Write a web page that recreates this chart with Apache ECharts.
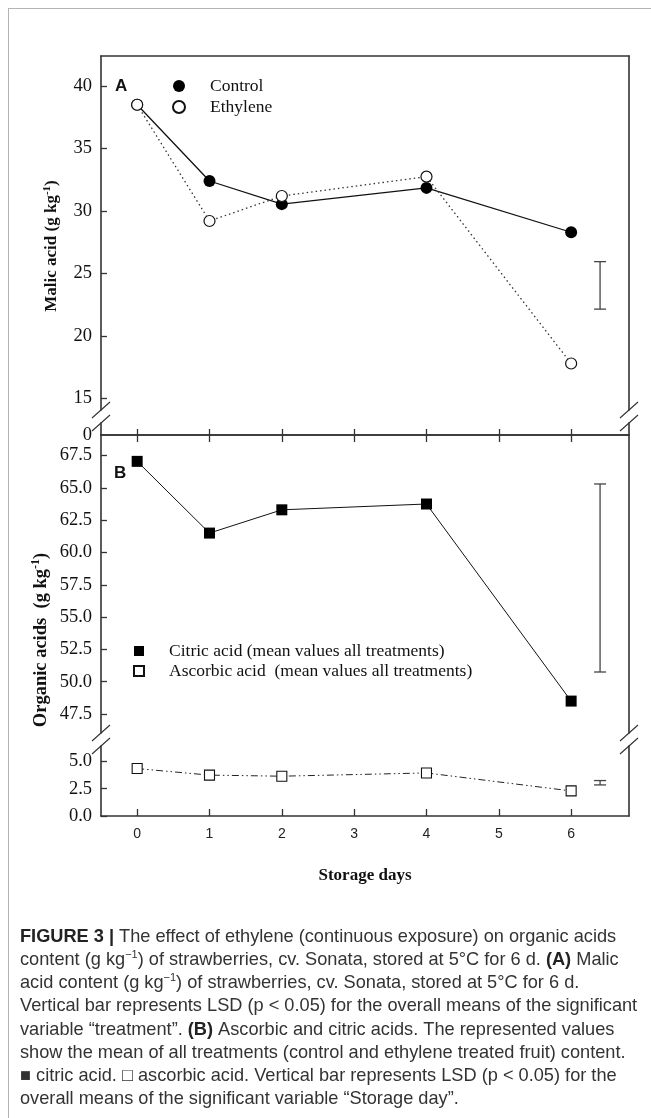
<!DOCTYPE html>
<html>
<head>
<meta charset="utf-8">
<script src="https://cdn.jsdelivr.net/npm/echarts@6/dist/echarts.min.js"></script>
<style>
  html, body { margin: 0; padding: 0; background: #fff; }
  #frame { position: absolute; left: 8px; top: 8px; right: 0; bottom: 0;
           border-top: 1px solid #b4b4b4; border-left: 1px solid #b4b4b4; }
  #chart { position: absolute; left: 0; top: 0; width: 651px; height: 1118px; }
</style>
</head>
<body>
<div id="frame"></div>
<div id="chart"></div>
<script>
// data
const days = [0, 1, 2, 4, 6];
const controlMalic = [38.5, 32.4, 30.55, 31.85, 28.3];
const ethyleneMalic = [38.5, 29.2, 31.2, 32.75, 17.8];
const citricAcid = [67.05, 61.5, 63.3, 63.75, 48.5];
const ascorbicAcid = [4.35, 3.75, 3.65, 3.95, 2.3];
// LSD bars: [day position, low, high]
const lsdMalic = [6.4, 22.15, 25.95];
const lsdCitric = [6.4, 50.75, 65.3];
const lsdAscorbic = [6.4, 2.85, 3.25];

const dayTicks = [0, 1, 2, 3, 4, 5, 6];
const malicTicks = [15, 20, 25, 30, 35, 40];
const malicZero = [0];
const citricTicks = [47.5, 50, 52.5, 55, 57.5, 60, 62.5, 65, 67.5];
const ascorbicTicks = [0, 2.5, 5];

const citricName = "Citric acid (mean values all treatments)";
const ascorbicName = "Ascorbic acid  (mean values all treatments)";

const SERIF = "'Liberation Serif', 'Times New Roman', serif";
const SANS = "'Liberation Sans', Arial, sans-serif";
const AX = "#333";

// layout of the four grids (two broken panels)
const L = 101, RM = 22, W = 651;
const gA = { top: 56, bottom: 410 };
const gA0 = { top: 423, bottom: 435 };
const gB = { top: 435, bottom: 733 };
const gB0 = { top: 746, bottom: 816 };

function grid(g) {
  return { left: L, right: RM, top: g.top, height: g.bottom - g.top };
}

function pairs(ys) {
  return days.map((d, i) => [d, ys[i]]);
}

function xAx(gi, pos, opts) {
  return Object.assign({
    type: "value", gridIndex: gi, position: pos, min: -0.5, max: 6.8,
    axisLine: { show: true, lineStyle: { color: AX, width: 1.6 } },
    axisTick: { show: false },
    axisLabel: { show: false },
    splitLine: { show: false },
  }, opts || {});
}

function yAx(gi, pos, min, max, ticks, fmt, noTick) {
  let a = {
    type: "value", gridIndex: gi, position: pos, min: min, max: max,
    axisLine: { show: true, onZero: false, lineStyle: { color: AX, width: 1.6 } },
    axisTick: { show: false },
    axisLabel: { show: false },
    splitLine: { show: false },
  };
  if (ticks) {
    a.axisTick = { show: !noTick, inside: true, length: 6, customValues: ticks,
                   lineStyle: { color: AX, width: 1.3 } };
    a.axisLabel = { show: true, customValues: ticks, margin: 9,
                    fontFamily: SERIF, fontSize: 18.5, color: "#111",
                    formatter: fmt || ((v) => String(v)) };
  }
  return a;
}

function lsdItem(params, api) {
  const top = api.coord([api.value(0), api.value(2)]);
  const bot = api.coord([api.value(0), api.value(1)]);
  const st = { stroke: "#444", lineWidth: 1.3 };
  return {
    type: "group",
    children: [
      { type: "line", shape: { x1: top[0], y1: top[1], x2: bot[0], y2: bot[1] }, style: st },
      { type: "line", shape: { x1: top[0] - 6, y1: top[1], x2: top[0] + 6, y2: top[1] }, style: st },
      { type: "line", shape: { x1: bot[0] - 6, y1: bot[1], x2: bot[0] + 6, y2: bot[1] }, style: st },
    ],
  };
}

// break marks "//" on the vertical axes
function slashes() {
  let out = [];
  [L, W - RM].forEach((x) => {
    [gA.bottom, gA0.top, gB.bottom, gB0.top].forEach((y) => {
      out.push({ type: "line", shape: { x1: x - 9, y1: y + 8, x2: x + 9, y2: y - 8 },
                 style: { stroke: AX, lineWidth: 1.2 }, z: 100 });
    });
  });
  return out;
}

const captionLines = [
  "{b|FIGURE 3 |} The effect of ethylene (continuous exposure) on organic acids",
  "content (g kg{s|−1}) of strawberries, cv. Sonata, stored at 5°C for 6 d. {b|(A)} Malic",
  "acid content (g kg{s|−1}) of strawberries, cv. Sonata, stored at 5°C for 6 d.",
  "Vertical bar represents LSD (p < 0.05) for the overall means of the significant",
  "variable “treatment”. {b|(B)} Ascorbic and citric acids. The represented values",
  "show the mean of all treatments (control and ethylene treated fruit) content.",
  "■ citric acid. □ ascorbic acid. Vertical bar represents LSD (p < 0.05) for the",
  "overall means of the significant variable “Storage day”.",
];

function caption() {
  return captionLines.map((t, i) => ({
    type: "text", x: 20, y: 937 + i * 23.15,
    style: {
      text: t, fontFamily: SANS, fontSize: 18.2, fill: "#333",
      textVerticalAlign: "middle",
      rich: {
        b: { fontFamily: SANS, fontSize: 18.2, fontWeight: "bold", fill: "#222" },
        s: { fontFamily: SANS, fontSize: 11, fill: "#333", padding: [0, 0, 10, 0] },
      },
    },
  }));
}

const chart = echarts.init(document.getElementById("chart"), null, { renderer: "canvas" });

const option = {
  animation: false,
  grid: [grid(gA), grid(gA0), grid(gB), grid(gB0)],
  xAxis: [
    xAx(0, "top"),
    xAx(1, "bottom", { axisTick: { show: true, inside: true, length: 6, customValues: dayTicks,
                                   lineStyle: { color: AX, width: 1.3 } } }),
    xAx(2, "top", { axisTick: { show: true, inside: true, length: 7, customValues: dayTicks,
                                lineStyle: { color: AX, width: 1.3 } } }),
    xAx(3, "bottom", {
      axisTick: { show: true, inside: true, length: 7, customValues: dayTicks,
                  lineStyle: { color: AX, width: 1.3 } },
      axisLabel: { show: true, customValues: dayTicks, margin: 11,
                   fontFamily: SANS, fontSize: 14, color: "#222" },
      name: "Storage days", nameLocation: "middle", nameGap: 51,
      nameTextStyle: { fontFamily: SERIF, fontSize: 17, fontWeight: "bold", color: "#111" },
    }),
  ],
  yAxis: [
    yAx(0, "left", 14.08, 42.4, malicTicks),
    yAx(0, "right", 14.08, 42.4),
    yAx(1, "left", 0, 1, malicZero, null, true),
    yAx(1, "right", 0, 1),
    yAx(2, "left", 46.03, 69.09, citricTicks, (v) => v.toFixed(1)),
    yAx(2, "right", 46.03, 69.09),
    yAx(3, "left", 0, 6.42, ascorbicTicks, (v) => v.toFixed(1)),
    yAx(3, "right", 0, 6.42),
  ],
  legend: [
    {
      data: [{ name: "Control", icon: "circle" }, { name: "Ethylene", icon: "circle" }],
      orient: "vertical", left: 172, top: 77, padding: 0,
      itemWidth: 12, itemHeight: 12, itemGap: 3, selectedMode: false,
      textStyle: { fontFamily: SERIF, fontSize: 17.5, color: "#111", lineHeight: 18, padding: [0, 0, 0, 20] },
    },
    {
      data: [{ name: citricName, icon: "rect" }, { name: ascorbicName, icon: "rect" }],
      orient: "vertical", left: 133, top: 642, padding: 0,
      itemWidth: 10, itemHeight: 10, itemGap: 2, selectedMode: false,
      textStyle: { fontFamily: SERIF, fontSize: 17.5, color: "#111", lineHeight: 18, padding: [0, 0, 0, 20] },
    },
  ],
  series: [
    {
      name: "Control", type: "line", xAxisIndex: 0, yAxisIndex: 0,
      data: pairs(controlMalic), symbol: "circle", symbolSize: 12,
      itemStyle: { color: "#000" }, lineStyle: { color: "#111", width: 1.3 }, z: 3,
    },
    {
      name: "Ethylene", type: "line", xAxisIndex: 0, yAxisIndex: 0,
      data: pairs(ethyleneMalic), symbol: "circle", symbolSize: 11,
      itemStyle: { color: "#fff", borderColor: "#111", borderWidth: 1.2 },
      lineStyle: { color: "#333", width: 1.3, type: [1.5, 3] }, z: 4,
    },
    {
      name: "lsdMalic", type: "custom", xAxisIndex: 0, yAxisIndex: 0,
      data: [lsdMalic], renderItem: lsdItem,
    },
    {
      name: citricName, type: "line", xAxisIndex: 2, yAxisIndex: 4,
      data: pairs(citricAcid), symbol: "rect", symbolSize: 11,
      itemStyle: { color: "#000" }, lineStyle: { color: "#111", width: 1 },
    },
    {
      name: "lsdCitric", type: "custom", xAxisIndex: 2, yAxisIndex: 4,
      data: [lsdCitric], renderItem: lsdItem,
    },
    {
      name: ascorbicName, type: "line", xAxisIndex: 3, yAxisIndex: 6,
      data: pairs(ascorbicAcid), symbol: "rect", symbolSize: 10,
      itemStyle: { color: "#fff", borderColor: "#111", borderWidth: 1.1 },
      lineStyle: { color: "#222", width: 1, type: [7, 3, 1.5, 3, 1.5, 3] },
    },
    {
      name: "lsdAscorbic", type: "custom", xAxisIndex: 3, yAxisIndex: 6,
      data: [lsdAscorbic], renderItem: lsdItem,
    },
  ],
  graphic: [
    { type: "text", x: 115, y: 86,
      style: { text: "A", fontFamily: SANS, fontSize: 17, fontWeight: "bold", fill: "#111", textVerticalAlign: "middle" } },
    { type: "text", x: 114, y: 473,
      style: { text: "B", fontFamily: SANS, fontSize: 17, fontWeight: "bold", fill: "#111", textVerticalAlign: "middle" } },
    { type: "text", x: 52, y: 246, rotation: Math.PI / 2,
      style: { text: "Malic acid (g kg{s|-1})", fontFamily: SERIF, fontSize: 17, fontWeight: "bold",
               fill: "#111", textAlign: "center", textVerticalAlign: "middle",
               rich: { s: { fontFamily: SERIF, fontSize: 11, fontWeight: "bold", fill: "#111", padding: [0, 0, 9, 0] } } } },
    { type: "text", x: 41, y: 640, rotation: Math.PI / 2,
      style: { text: "Organic acids  (g kg{s|-1})", fontFamily: SERIF, fontSize: 18.5, fontWeight: "bold",
               fill: "#111", textAlign: "center", textVerticalAlign: "middle",
               rich: { s: { fontFamily: SERIF, fontSize: 12, fontWeight: "bold", fill: "#111", padding: [0, 0, 10, 0] } } } },
  ].concat(slashes(), caption()),
};

chart.setOption(option);
</script>
</body>
</html>
